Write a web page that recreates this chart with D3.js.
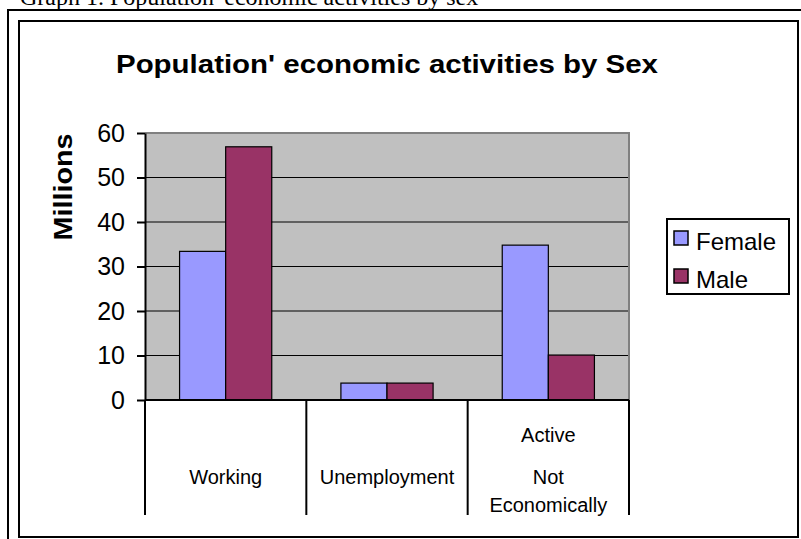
<!DOCTYPE html>
<html>
<head>
<meta charset="utf-8">
<script src="https://cdn.jsdelivr.net/npm/d3@7"></script>
<style>
  body { margin: 0; background: #fff; }
  svg { display: block; }
</style>
</head>
<body>
<div id="chart"></div>
<script>
// data
var categories = ["Working", "Unemployment", "Not Economically Active"];
var categoryLines = [["Working"], ["Unemployment"], ["Active", "Not", "Economically"]];
var series = ["Female", "Male"];
var female = [33.4, 3.8, 34.8];
var male = [56.9, 3.8, 10.1];
var yTicks = [0, 10, 20, 30, 40, 50, 60];
var colors = {Female: "#9999ff", Male: "#993366"};

var W = 801, H = 539;
var plot = {left: 145, top: 133, right: 629, bottom: 400};

var svg = d3.select("#chart").append("svg")
    .attr("width", W)
    .attr("height", H);

// page caption (cut off at the top, as in the scan)
svg.append("text")
    .attr("x", 20)
    .attr("y", 5)
    .style("font-family", "'Liberation Serif', 'Times New Roman', serif")
    .style("font-size", "24px")
    .text("Graph 1. Population' economic activities by sex");

// outer frame lines
svg.append("path")
    .attr("d", "M8," + H + " V10 H" + W)
    .attr("fill", "none")
    .attr("stroke", "#000")
    .attr("stroke-width", 2);
// inner chart frame
svg.append("rect")
    .attr("x", 19).attr("y", 21)
    .attr("width", 779).attr("height", 516)
    .attr("fill", "#fff")
    .attr("stroke", "#000")
    .attr("stroke-width", 2);

// title
svg.append("text")
    .attr("x", 387)
    .attr("y", 73)
    .attr("text-anchor", "middle")
    .attr("textLength", 542)
    .attr("lengthAdjust", "spacingAndGlyphs")
    .style("font-family", "Arial, 'Liberation Sans', sans-serif")
    .style("font-weight", "bold")
    .style("font-size", "26px")
    .text("Population' economic activities by Sex");

// scales
var x0 = d3.scaleBand()
    .domain(categories)
    .range([plot.left, plot.right])
    .padding(0);
var step = x0.bandwidth();
var x1 = d3.scaleBand()
    .domain(series)
    .range([step * 0.2143, step * 0.7857])
    .padding(0);
var y = d3.scaleLinear()
    .domain([0, 60])
    .range([plot.bottom, plot.top]);

// plot area
svg.append("rect")
    .attr("x", plot.left).attr("y", plot.top)
    .attr("width", plot.right - plot.left)
    .attr("height", plot.bottom - plot.top)
    .attr("fill", "#c0c0c0");

// gridlines
svg.append("g")
    .selectAll("line")
    .data(yTicks.filter(function(d) { return d > 0 && d < 60; }))
    .enter().append("line")
    .attr("x1", plot.left).attr("x2", plot.right)
    .attr("y1", function(d) { return y(d); })
    .attr("y2", function(d) { return y(d); })
    .attr("stroke", "#000")
    .attr("stroke-width", 1);

// gray border top + right
svg.append("path")
    .attr("d", "M" + plot.left + "," + plot.top + " H" + plot.right + " V" + plot.bottom)
    .attr("fill", "none")
    .attr("stroke", "#808080")
    .attr("stroke-width", 2);

// bars
var rows = categories.map(function(c, i) {
    return {cat: c, values: [{s: "Female", v: female[i]}, {s: "Male", v: male[i]}]};
});
var groups = svg.append("g").selectAll("g")
    .data(rows)
    .enter().append("g")
    .attr("transform", function(d) { return "translate(" + x0(d.cat) + ",0)"; });
groups.selectAll("rect")
    .data(function(d) { return d.values; })
    .enter().append("rect")
    .attr("x", function(d) { return x1(d.s); })
    .attr("y", function(d) { return y(d.v); })
    .attr("width", x1.bandwidth())
    .attr("height", function(d) { return y(0) - y(d.v); })
    .attr("fill", function(d) { return colors[d.s]; })
    .attr("stroke", "#000")
    .attr("stroke-width", 1.2);

// y axis
var yAxis = svg.append("g")
    .attr("transform", "translate(" + plot.left + ",0)")
    .call(d3.axisLeft(y).tickValues(yTicks).tickSize(8).tickPadding(12).tickSizeOuter(0));
yAxis.select(".domain").attr("stroke", "#000").attr("stroke-width", 2);
yAxis.selectAll(".tick line").attr("stroke", "#000").attr("stroke-width", 2);
yAxis.selectAll(".tick text")
    .attr("fill", "#000")
    .style("font-family", "Arial, 'Liberation Sans', sans-serif")
    .style("font-size", "25px");

// y axis title
svg.append("text")
    .attr("transform", "translate(72,187) rotate(-90)")
    .attr("text-anchor", "middle")
    .attr("textLength", 107)
    .attr("lengthAdjust", "spacingAndGlyphs")
    .style("font-family", "Arial, 'Liberation Sans', sans-serif")
    .style("font-weight", "bold")
    .style("font-size", "26px")
    .text("Millions");

// x axis: baseline and category dividers
svg.append("line")
    .attr("x1", plot.left).attr("x2", plot.right)
    .attr("y1", plot.bottom).attr("y2", plot.bottom)
    .attr("stroke", "#000").attr("stroke-width", 2);
var dividers = categories.map(function(c) { return x0(c); }).concat([plot.right]);
svg.append("g").selectAll("line")
    .data(dividers)
    .enter().append("line")
    .attr("x1", function(d) { return d; }).attr("x2", function(d) { return d; })
    .attr("y1", plot.bottom).attr("y2", 515)
    .attr("stroke", "#000").attr("stroke-width", 2);

// category labels
var lineY = {1: [484], 3: [442, 484, 512]};
svg.append("g").selectAll("text")
    .data(categories)
    .enter().append("text")
    .attr("text-anchor", "middle")
    .style("font-family", "Arial, 'Liberation Sans', sans-serif")
    .style("font-size", "20px")
    .each(function(c, i) {
        var lines = categoryLines[i];
        var ys = lineY[lines.length];
        var t = d3.select(this);
        lines.forEach(function(l, j) {
            t.append("tspan")
                .attr("x", x0(c) + step / 2)
                .attr("y", ys[j])
                .text(l);
        });
    });

// legend
var legend = svg.append("g");
legend.append("rect")
    .attr("x", 667).attr("y", 219)
    .attr("width", 122).attr("height", 75)
    .attr("fill", "#fff")
    .attr("stroke", "#000")
    .attr("stroke-width", 2);
var items = legend.selectAll("g.item")
    .data(series)
    .enter().append("g")
    .attr("class", "item")
    .attr("transform", function(d, i) { return "translate(674," + (231 + i * 38) + ")"; });
items.append("rect")
    .attr("width", 14).attr("height", 14)
    .attr("fill", function(d) { return colors[d]; })
    .attr("stroke", "#000")
    .attr("stroke-width", 1.5);
items.append("text")
    .attr("x", 22)
    .attr("y", 19)
    .style("font-family", "Arial, 'Liberation Sans', sans-serif")
    .style("font-size", "24px")
    .text(function(d) { return d; });
</script>
</body>
</html>
